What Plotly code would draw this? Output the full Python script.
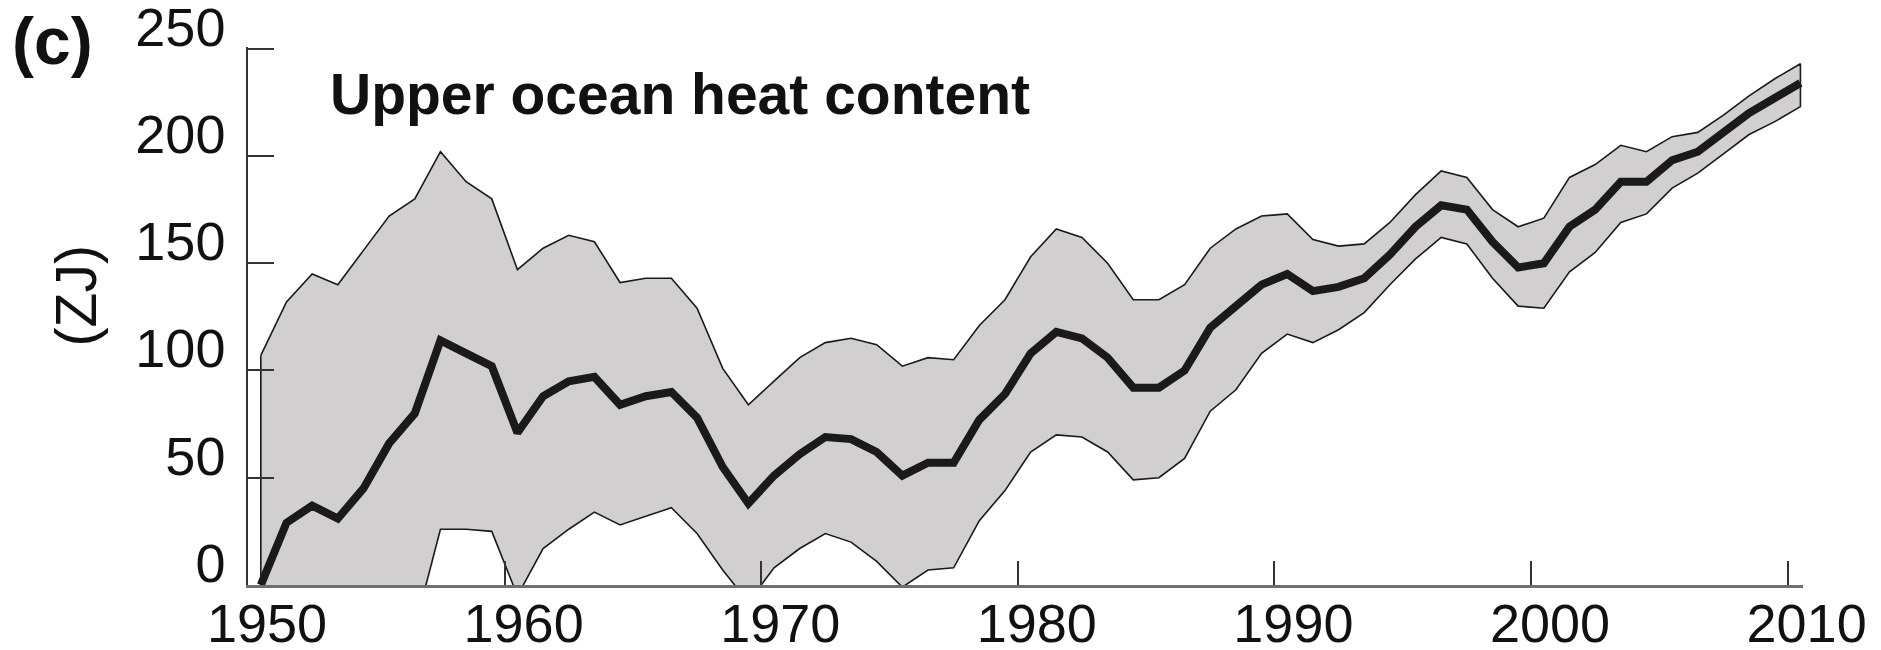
import plotly.graph_objects as go

# ---- data (annual values, ZJ) ----
years = list(range(1950, 2011))
upper = [107, 132, 145, 140, 156, 172, 180, 202, 188, 180,
         147, 157, 163, 160, 141, 143, 143, 129, 101, 84,
         95, 106, 113, 115, 112, 102, 106, 105, 121, 133,
         153, 166, 162, 150, 133, 133, 140, 157, 166, 172,
         173, 161, 158, 159, 169, 182, 193, 190, 175, 167,
         171, 190, 196, 205, 202, 209, 211, 219, 228, 236,
         243]
mean = [0, 29, 37, 31, 45, 66, 80, 114, 108, 102,
        71, 88, 95, 97, 84, 88, 90, 78, 55, 38,
        51, 61, 69, 68, 62, 51, 57, 57, 77, 89,
        108, 118, 115, 106, 92, 92, 100, 120, 130, 140,
        145, 137, 139, 143, 154, 167, 177, 175, 160, 148,
        150, 167, 175, 188, 188, 198, 202, 211, 220, 227,
        234]
lower = [-107, -74, -71, -78, -66, -40, -20, 26, 26, 25,
         -5, 17, 26, 34, 28, 32, 36, 24, 7, -8,
         8, 17, 24, 20, 11, -1, 7, 8, 30, 44,
         62, 70, 69, 62, 49, 50, 59, 81, 91, 108,
         117, 113, 119, 127, 140, 152, 162, 159, 143, 130,
         129, 146, 155, 169, 173, 185, 192, 201, 210, 216,
         223]
x_ticks = [1950, 1960, 1970, 1980, 1990, 2000, 2010]
y_ticks = [0, 50, 100, 150, 200, 250]

# annual means plotted at mid-year
xm = [y + 0.5 for y in years]

band_x = xm + xm[::-1] + [xm[0]]
band_y = upper + lower[::-1] + [upper[0]]

FONT = "Liberation Sans, Arial, sans-serif"

Y_TOP = 250.8  # a hair above 250 so the top inside tick is kept

# the page body has an 8px margin at top/left
OFF = 8
W, H = 1881 - OFF, 650 - OFF
# plot area in page pixels: x 247.5..1803, y ..585 (250 sits at y=49)
L = 247.5 - OFF
T = 49 - (Y_TOP - 250) * (536 / 250) - OFF
R = W - (1803 - OFF)
B = H - (585 - OFF)
PW = W - L - R
PH = H - T - B


def px(x):
    return (x - OFF - L) / PW


def py(y):
    return (H - B - (y - OFF)) / PH


fig = go.Figure()
fig.add_trace(go.Scatter(
    x=band_x, y=band_y, mode="lines", fill="toself",
    fillcolor="#d2cfd0", line=dict(color="#1a1a1a", width=1.6),
    hoverinfo="skip", showlegend=False))
fig.add_trace(go.Scatter(
    x=xm, y=mean, mode="lines",
    line=dict(color="#1a1a18", width=8),
    showlegend=False))

fig.update_layout(
    width=W, height=H,
    margin=dict(l=L, r=R, t=T, b=B, autoexpand=False),
    paper_bgcolor="white", plot_bgcolor="white",
    font=dict(family=FONT, color="#111111"),
    xaxis=dict(
        range=[1950, 2010.6], tickvals=x_ticks,
        ticktext=[str(v) for v in x_ticks],
        ticks="inside", ticklen=24, tickwidth=1.5, tickcolor="#333333",
        showline=True, linecolor="#6e6e6e", linewidth=3,
        showgrid=False, zeroline=False, automargin=False,
        tickfont=dict(size=54, family=FONT, color="#111111"),
        ticklabelshift=19, ticklabelstandoff=-11,
        ticklabeloverflow="allow",
    ),
    yaxis=dict(
        range=[0, Y_TOP], tickvals=y_ticks,
        ticktext=[str(v) for v in y_ticks],
        ticks="inside", ticklen=26, tickwidth=1.5, tickcolor="#333333",
        showline=True, linecolor="#333333", linewidth=1.5,
        showgrid=False, zeroline=False, automargin=False,
        tickfont=dict(size=54, family=FONT, color="#111111"),
        ticklabelshift=-22, ticklabelstandoff=10,
        ticklabeloverflow="allow",
    ),
    annotations=[
        dict(text="<b>(c)</b>", xref="paper", yref="paper",
             x=px(9), y=py(41),
             xanchor="left", yanchor="middle", showarrow=False,
             font=dict(size=66, family=FONT, color="#111111")),
        dict(text="<b>Upper ocean heat content</b>", xref="paper", yref="paper",
             x=px(328), y=py(94),
             xanchor="left", yanchor="middle", showarrow=False,
             font=dict(size=57, family=FONT, color="#111111")),
        dict(text="(ZJ)", xref="paper", yref="paper", textangle=-90,
             x=px(75), y=py(296),
             xanchor="center", yanchor="middle", showarrow=False,
             font=dict(size=57, family=FONT, color="#111111")),
    ],
)

fig.write_html("out.html")
